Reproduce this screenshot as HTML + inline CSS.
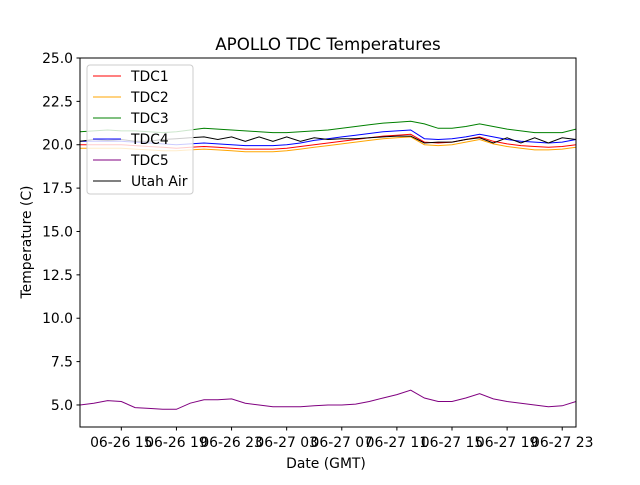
<!DOCTYPE html>
<html><head><meta charset="utf-8"><style>
body{margin:0;background:#fff}
text{font-family:"DejaVu Sans","Liberation Sans",sans-serif;fill:#000}
</style></head><body>
<svg id="chart" width="640" height="480" xmlns="http://www.w3.org/2000/svg">
<rect width="640" height="480" fill="#fff"/>
<text x="328" y="50" font-size="16.7" text-anchor="middle">APOLLO TDC Temperatures</text>
<g id="grid"></g>
<g id="series"></g>
<rect x="80" y="58" width="496" height="369" fill="none" stroke="#000" stroke-width="1"/>
<g id="ticks"></g>
<text x="326" y="468" font-size="13.9" text-anchor="middle">Date (GMT)</text>
<text transform="translate(31,242) rotate(-90)" font-size="13.9" text-anchor="middle">Temperature (C)</text>
<g id="legend">
<rect x="87" y="65" width="106" height="129" rx="3" fill="#fff" fill-opacity="0.8" stroke="#ccc"/>
</g>
</svg>
<script>
const hours=[12,13,14,15,16,17,18,19,20,21,22,23,24,25,26,27,28,29,30,31,32,33,34,35,36,37,38,39,40,41,42,43,44,45,46,47,48];
const tdc1=[20.0,20.0,20.0,20.0,19.95,19.9,19.85,19.8,19.85,19.9,19.85,19.8,19.75,19.75,19.75,19.8,19.9,20.0,20.1,20.2,20.3,20.4,20.5,20.55,20.6,20.15,20.1,20.15,20.3,20.45,20.2,20.05,19.95,19.9,19.85,19.9,20.0];
const tdc2=[19.8,19.8,19.8,19.8,19.75,19.7,19.65,19.65,19.7,19.75,19.7,19.65,19.6,19.6,19.6,19.65,19.75,19.85,19.95,20.05,20.15,20.25,20.35,20.4,20.45,20.0,19.95,20.0,20.15,20.3,20.05,19.9,19.8,19.7,19.7,19.75,19.85];
const tdc3=[20.75,20.8,20.85,20.8,20.8,20.75,20.7,20.75,20.85,20.95,20.9,20.85,20.8,20.75,20.7,20.7,20.75,20.8,20.85,20.95,21.05,21.15,21.25,21.3,21.35,21.2,20.95,20.95,21.05,21.2,21.05,20.9,20.8,20.7,20.7,20.7,20.9];
const tdc4=[20.2,20.2,20.2,20.2,20.15,20.1,20.05,20.0,20.05,20.1,20.05,20.0,19.95,19.95,19.95,20.0,20.1,20.25,20.35,20.45,20.55,20.65,20.75,20.8,20.85,20.35,20.3,20.35,20.45,20.6,20.45,20.3,20.2,20.15,20.1,20.15,20.3];
const tdc5=[5.0,5.1,5.25,5.2,4.85,4.8,4.75,4.75,5.1,5.3,5.3,5.35,5.1,5.0,4.9,4.9,4.9,4.95,5.0,5.0,5.05,5.2,5.4,5.6,5.85,5.4,5.2,5.2,5.4,5.65,5.35,5.2,5.1,5.0,4.9,4.95,5.2];
const utahAir=[20.2,20.3,20.25,20.3,20.2,20.2,20.3,20.35,20.4,20.45,20.3,20.45,20.2,20.45,20.2,20.45,20.2,20.4,20.3,20.35,20.35,20.4,20.45,20.5,20.5,20.1,20.15,20.15,20.3,20.4,20.1,20.4,20.1,20.4,20.1,20.4,20.3];
const yTicks=[5.0,7.5,10.0,12.5,15.0,17.5,20.0,22.5,25.0];
const xTickHours=[15,19,23,27,31,35,39,43,47];
const xTickLabels=["06-26 15","06-26 19","06-26 23","06-27 03","06-27 07","06-27 11","06-27 15","06-27 19","06-27 23"];
const seriesNames=["TDC1","TDC2","TDC3","TDC4","TDC5","Utah Air"];
const seriesColors=["red","orange","green","blue","purple","black"];

const NS="http://www.w3.org/2000/svg";
const X0=80,X1=576,Y0=58,Y1=427,H0=12,H1=48,V0=3.73,V1=25;
function xs(h){return X0+(h-H0)/(H1-H0)*(X1-X0);}
function ys(v){return Y1-(v-V0)/(V1-V0)*(Y1-Y0);}
function mk(tag,attrs,parent){const e=document.createElementNS(NS,tag);for(const k in attrs)e.setAttribute(k,attrs[k]);parent.appendChild(e);return e;}
const ticks=document.getElementById('ticks');
yTicks.forEach(v=>{
  const l=mk('line',{x1:X0-3.5,x2:X0,y1:ys(v),y2:ys(v),stroke:'#000'},ticks);
  
  
  const t=mk('text',{x:X0-7,y:ys(v)+5,'font-size':'13.9','text-anchor':'end'},ticks);
  t.textContent=v.toFixed(1);
  
  
});
xTickHours.forEach((h,i)=>{
  const l=mk('line',{x1:xs(h),x2:xs(h),y1:Y1,y2:Y1+3.5,stroke:'#000'},ticks);
  
  
  const t=mk('text',{x:xs(h),y:Y1+20,'font-size':'13.9','text-anchor':'middle'},ticks);
  t.textContent=xTickLabels[i];
  
  
});
const data=[tdc1,tdc2,tdc3,tdc4,tdc5,utahAir];
const sg=document.getElementById('series');
data.forEach((arr,i)=>{
  const d=arr.map((v,j)=>(j?'L':'M')+xs(hours[j]).toFixed(1)+','+ys(v).toFixed(1)).join(' ');
  const p=mk('path',{d:d,fill:'none',stroke:seriesColors[i],'stroke-width':'1'},sg);
  
  
});
const lg=document.getElementById('legend');
seriesNames.forEach((n,i)=>{
  const y=76+i*21;
  const l=mk('line',{x1:93,x2:121,y1:y,y2:y,stroke:seriesColors[i],'stroke-width':'1'},lg);
  
  
  const t=mk('text',{x:131,y:y+5,'font-size':'13.9'},lg);
  t.textContent=n;
  
  
});
</script>
</body></html>
